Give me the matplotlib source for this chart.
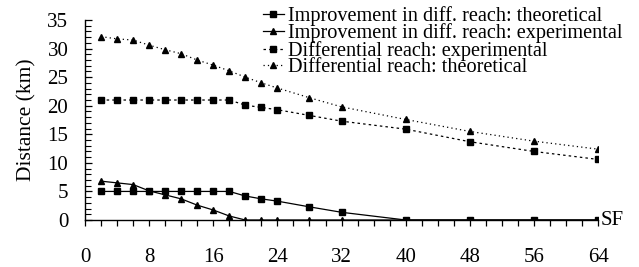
import matplotlib.pyplot as plt
from matplotlib.ticker import MultipleLocator

plt.rcParams["font.family"] = ["Liberation Serif", "DejaVu Serif"]

x = [2, 4, 6, 8, 10, 12, 14, 16, 18, 20, 22, 24, 28, 32, 40, 48, 56, 64]

impr_theo = [5, 5, 5, 5, 5, 5, 5, 5, 5, 4.2, 3.7, 3.3, 2.3, 1.35, 0, 0, 0, 0]
impr_exp = [6.8, 6.5, 6.2, 5.1, 4.4, 3.7, 2.6, 1.75, 0.7, 0, 0, 0, 0, 0, 0, 0, 0, 0]
reach_exp = [21, 21, 21, 21, 21, 21, 21, 21, 21, 20.1, 19.7, 19.3, 18.3, 17.3,
             15.9, 13.7, 12.0, 10.6]
reach_theo = [32.1, 31.7, 31.5, 30.6, 29.8, 29.1, 28.0, 27.1, 26.1, 25.0, 24.0,
              23.1, 21.4, 19.8, 17.6, 15.5, 13.8, 12.4]

fig = plt.figure(figsize=(6.39, 2.67), dpi=100)
ax = fig.add_axes([0.133, 0.176, 0.803, 0.749])

ax.plot(x, impr_theo, "k-", marker="s", ms=4.5, lw=0.9,
        label="Improvement in diff. reach: theoretical")
ax.plot(x, impr_exp, "k-", marker="^", ms=4.5, lw=0.9,
        label="Improvement in diff. reach: experimental")
ax.plot(x, reach_exp, "k", ls=(0, (2, 2.5)), marker="s", ms=4.5, lw=0.9,
        label="Differential reach: experimental")
ax.plot(x, reach_theo, "k", ls=(0, (1, 2.5)), marker="^", ms=4.5, lw=0.9,
        label="Differential reach: theoretical")

ax.set_xlim(0, 64)
ax.set_ylim(0, 35)
ax.xaxis.set_major_locator(MultipleLocator(8))
ax.xaxis.set_minor_locator(MultipleLocator(2))
ax.yaxis.set_major_locator(MultipleLocator(5))
ax.yaxis.set_minor_locator(MultipleLocator(1))
ax.tick_params(axis="x", which="both", direction="out", length=4, width=0.9,
               labelsize=15, pad=16)
ax.tick_params(axis="y", which="major", direction="in", length=5, width=0.9,
               labelsize=15, pad=12)
ax.tick_params(axis="y", which="minor", direction="in", length=4, width=0.8)
for side in ("top", "right"):
    ax.spines[side].set_visible(False)
for side in ("left", "bottom"):
    ax.spines[side].set_linewidth(1.0)
ax.set_ylabel("Distance (km)", fontsize=15.5, labelpad=8)
ax.text(64.3, 0, "SF", fontsize=15, va="center", ha="left")

ax.legend(loc="upper left", bbox_to_anchor=(0.412, 0.978),
          bbox_transform=fig.transFigure, frameon=False,
          fontsize=14.6, handlelength=1.0, handletextpad=0.2,
          labelspacing=-0.12, borderaxespad=0, borderpad=0)

fig.savefig("out.png", dpi=100)
